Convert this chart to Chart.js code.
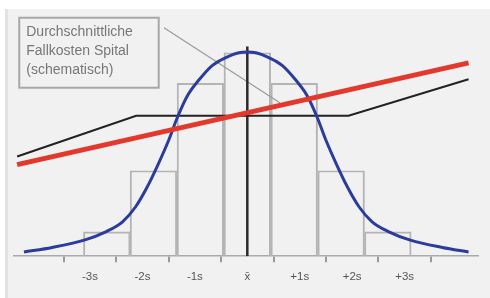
<!DOCTYPE html>
<html><head><meta charset="utf-8">
<script src="https://cdn.jsdelivr.net/npm/chart.js@4"></script>
<style>html,body{margin:0;padding:0;background:#fff}#wrap{width:490px;height:298px}</style>
</head><body><div id="wrap"><canvas id="c" width="490" height="298"></canvas></div>
<script>
// axis ticks (in units of standard deviation s)
const sigmaTicks = [-4,-3,-2,-1,0,1,2,3,4];
const tickLabels = ['','-3s','-2s','-1s','x\u0304','+1s','+2s','+3s',''];
// histogram bins
const binCenters = [-2.68,-1.79,-0.895,0,0.895,1.79,2.68];
const binCounts  = [12,42,85,100,85,42,12];
// normal curve
const curveX = [-4.26,-3.72,-3.11,-2.70,-2.38,-2.13,-1.91,-1.69,-1.50,-1.34,-1.15,-0.92,-0.67,-0.42,-0.16,0,0.16,0.42,0.67,0.92,1.15,1.34,1.50,1.69,1.91,2.13,2.38,2.70,3.11,3.72,4.22];
const curveY = [2.1,4.3,7.9,12,16.9,24.3,34,45.8,57,67.8,78.5,86.7,93.7,97.5,100,100.3,100,97.5,93.7,86.7,78.5,67.8,57,45.8,34,24.3,16.9,12,7.9,4.3,2.1];
// red cost line
const redX = [-4.39,4.22];
const redY = [45,95];
// black cost line
const blackX = [-4.39,-2.12,1.93,4.22];
const blackY = [49,69,69,87];
// mean marker
const meanX = [0,0];
const meanY = [0,103];
// callout leader
const leaderX = [-1.59,0.62];
const leaderY = [112.3,75.4];
// callout box
const boxX = [-4.35,-1.69];
const boxY = [117.2,82.8];
const boxText = ['Durchschnittliche','Fallkosten Spital','(schematisch)'];

const pts = (xs, ys) => xs.map((x,i)=>({x, y: ys[i]}));

const bgPlugin = {
  id:'bg',
  beforeDraw(chart){
    const ctx = chart.ctx;
    ctx.save();
    ctx.fillStyle = '#ffffff';
    ctx.fillRect(0,0,chart.width,chart.height);
    ctx.fillStyle = '#f1f1f1';
    ctx.fillRect(5,9,chart.width-5,chart.height-9);
    ctx.fillStyle = '#e2e2e2';
    ctx.fillRect(5,9,3,chart.height-9);
    ctx.restore();
  }
};
const boxPlugin = {
  id:'callout',
  afterDatasetsDraw(chart){
    const ctx = chart.ctx, xs = chart.scales.x, ys = chart.scales.y;
    const x0 = xs.getPixelForValue(boxX[0]), x1 = xs.getPixelForValue(boxX[1]);
    const y0 = ys.getPixelForValue(boxY[0]), y1 = ys.getPixelForValue(boxY[1]);
    ctx.save();
    ctx.fillStyle = '#f1f1f1';
    ctx.fillRect(x0,y0,x1-x0,y1-y0);
    ctx.strokeStyle = '#a8a8a8';
    ctx.lineWidth = 2;
    ctx.strokeRect(x0,y0,x1-x0,y1-y0);
    ctx.fillStyle = '#777777';
    ctx.font = '14px "Liberation Sans", Arial, sans-serif';
    ctx.textBaseline = 'middle';
    boxText.forEach((t,i)=>ctx.fillText(t, x0+7, y0+14+i*19));
    ctx.restore();
  }
};

new Chart(document.getElementById('c'), {
  type:'line',
  data:{
    datasets:[
      {type:'bar', data: pts(binCenters,binCounts), backgroundColor:'rgba(0,0,0,0)', borderColor:'#b4b4b4', borderWidth:1.3, barPercentage:1, categoryPercentage:1, order:6},
      {data: pts(leaderX,leaderY), borderColor:'#9a9a9a', borderWidth:1.2, pointRadius:0, order:5},
      {data: pts(meanX,meanY), borderColor:'#2a2a2a', borderWidth:2.5, pointRadius:0, order:4},
      {data: pts(blackX,blackY), borderColor:'#222222', borderWidth:2, pointRadius:0, order:3},
      {data: pts(curveX,curveY), borderColor:'#2c3c9c', borderWidth:3, pointRadius:0, cubicInterpolationMode:'monotone', order:2},
      {data: pts(redX,redY), borderColor:'#e2392c', borderWidth:5, pointRadius:0, order:1}
    ]
  },
  options:{
    responsive:false, animation:false, devicePixelRatio:1,
    layout:{padding:{left:14, right:12, top:10, bottom:6}},
    plugins:{legend:{display:false}, tooltip:{enabled:false}},
    scales:{
      x:{type:'linear', offset:false, min:-4.45, max:4.4,
        afterBuildTicks(axis){ axis.ticks = sigmaTicks.map(v=>({value:v})); },
        ticks:{includeBounds:false, autoSkip:false, maxRotation:0, padding:8, color:'#555', font:{size:11.5, family:'"Liberation Sans", Arial, sans-serif'},
          callback(v){ const i = sigmaTicks.indexOf(v); return i>=0 ? tickLabels[i] : ''; }},
        grid:{drawOnChartArea:false, drawTicks:true, tickLength:6, color:'#999', lineWidth:2},
        border:{display:true, color:'#aaa', width:1.5}
      },
      y:{display:false, min:0, max:121}
    }
  },
  plugins:[bgPlugin, boxPlugin]
});
</script></body></html>
